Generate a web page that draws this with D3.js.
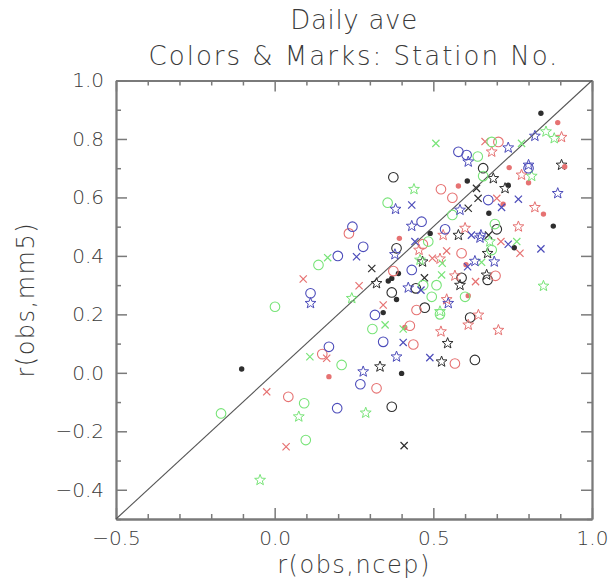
<!DOCTYPE html>
<html>
<head>
<meta charset="utf-8">
<script src="https://cdn.jsdelivr.net/npm/d3@7"></script>
<style>
  html, body { margin: 0; padding: 0; background: #fff; }
  svg { display: block; }
  text { font-family: "DejaVu Sans", "Liberation Sans", sans-serif; font-weight: 200; fill: #3a3a3a; }
</style>
</head>
<body>
<svg id="chart" width="609" height="582"></svg>
<script>
// ---------- data (x = r(obs,ncep), y = r(obs,mm5)) ----------
const titleLines = ["Daily ave", "Colors & Marks: Station No."];
const xLabel = "r(obs,ncep)";
const yLabel = "r(obs,mm5)";
const xMajorTicks = [-0.5, 0.0, 0.5, 1.0];
const xMinorTicks = [-0.4, -0.3, -0.2, -0.1, 0.1, 0.2, 0.3, 0.4, 0.6, 0.7, 0.8, 0.9];
const yMajorTicks = [-0.4, -0.2, 0.0, 0.2, 0.4, 0.6, 0.8, 1.0];
const yMinorTicks = [-0.5, -0.3, -0.1, 0.1, 0.3, 0.5, 0.7, 0.9];
const colors = { black: "#2e2e2e", red: "#e67272", green: "#78e478", blue: "#4c4cba" };

const blackCircle = [[0.374,0.669],[0.657,0.70],[0.70,0.491],[0.616,0.189],[0.631,0.044],[0.671,0.318],[0.384,0.426],[0.445,0.289],[0.589,0.325],[0.369,0.275],[0.473,0.223],[0.369,-0.116]];
const blackStar = [[0.579,0.471],[0.689,0.665],[0.904,0.711],[0.726,0.631],[0.668,0.335],[0.671,0.409],[0.321,0.306],[0.466,0.38],[0.584,0.30],[0.545,0.101],[0.526,0.038],[0.332,0.021]];
const blackCross = [[0.636,0.631],[0.641,0.597],[0.61,0.563],[0.674,0.471],[0.306,0.357],[0.472,0.325],[0.408,-0.249]];
const blackDot = [[0.607,0.656],[0.49,0.477],[0.839,0.888],[0.736,0.642],[0.675,0.546],[0.878,0.502],[0.755,0.428],[0.39,0.34],[0.369,0.323],[0.358,0.314],[0.384,0.251],[0.342,0.206],[0.40,-0.002],[-0.104,0.013]];

const redCircle = [[0.524,0.628],[0.560,0.599],[0.234,0.477],[0.705,0.79],[0.696,0.332],[0.467,0.44],[0.589,0.409],[0.374,0.348],[0.447,0.215],[0.426,0.161],[0.437,0.097],[0.568,0.032],[0.15,0.064],[0.043,-0.082],[0.321,-0.053]];
const redStar = [[0.531,0.471],[0.6,0.495],[0.904,0.806],[0.684,0.756],[0.778,0.677],[0.82,0.566],[0.768,0.50],[0.705,0.146],[0.642,0.198],[0.61,0.164],[0.455,0.42],[0.521,0.39],[0.568,0.332],[0.542,0.251],[0.524,0.141]];
const redCross = [[0.663,0.791],[0.70,0.597],[0.633,0.312],[0.713,0.449],[0.773,0.409],[0.497,0.392],[0.542,0.417],[0.266,0.298],[0.342,0.232],[0.09,0.321],[0.164,0.05],[-0.025,-0.065],[0.036,-0.253]];
const redDot = [[0.579,0.639],[0.892,0.856],[0.739,0.702],[0.8,0.65],[0.914,0.705],[0.72,0.577],[0.847,0.543],[0.61,0.264],[0.603,0.37],[0.393,0.46],[0.41,0.155],[0.171,-0.013]];

const greenCircle = [[0.356,0.582],[0.56,0.54],[0.684,0.79],[0.64,0.74],[0.657,0.673],[0.694,0.509],[0.684,0.42],[0.484,0.449],[0.468,0.30],[0.495,0.26],[0.51,0.30],[0.60,0.26],[0.521,0.20],[0.308,0.15],[0.138,0.369],[0.001,0.226],[0.211,0.027],[-0.169,-0.139],[0.093,-0.104],[0.098,-0.23]];
const greenStar = [[0.439,0.628],[0.855,0.825],[0.881,0.802],[0.81,0.673],[0.678,0.449],[0.847,0.297],[0.458,0.386],[0.243,0.255],[0.521,0.21],[0.076,-0.15],[-0.046,-0.367],[0.287,-0.137]];
const greenCross = [[0.508,0.785],[0.778,0.785],[0.652,0.378],[0.763,0.449],[0.526,0.335],[0.528,0.375],[0.348,0.164],[0.405,0.15],[0.167,0.394],[0.111,0.055]];

const blueCircle = [[0.579,0.756],[0.463,0.517],[0.245,0.5],[0.537,0.491],[0.605,0.745],[0.8,0.70],[0.673,0.591],[0.279,0.431],[0.432,0.352],[0.316,0.198],[0.342,0.106],[0.199,0.40],[0.113,0.272],[0.171,0.089],[0.197,-0.121],[0.27,-0.039]];
const blueStar = [[0.381,0.56],[0.584,0.557],[0.432,0.502],[0.82,0.81],[0.736,0.77],[0.61,0.722],[0.8,0.711],[0.892,0.614],[0.65,0.471],[0.692,0.38],[0.631,0.382],[0.647,0.462],[0.379,0.405],[0.421,0.291],[0.547,0.238],[0.384,0.055],[0.279,0.004],[0.113,0.238]];
const blueCross = [[0.432,0.574],[0.715,0.566],[0.768,0.594],[0.62,0.471],[0.839,0.424],[0.608,0.363],[0.736,0.44],[0.258,0.397],[0.442,0.449],[0.461,0.283],[0.405,0.104],[0.489,0.052]];

const stations = [
  { data: blackCircle, color: "black", mark: "circle" },
  { data: blackStar,   color: "black", mark: "star" },
  { data: blackCross,  color: "black", mark: "cross" },
  { data: blackDot,    color: "black", mark: "dot" },
  { data: redCircle,   color: "red",   mark: "circle" },
  { data: redStar,     color: "red",   mark: "star" },
  { data: redCross,    color: "red",   mark: "cross" },
  { data: redDot,      color: "red",   mark: "dot" },
  { data: greenCircle, color: "green", mark: "circle" },
  { data: greenStar,   color: "green", mark: "star" },
  { data: greenCross,  color: "green", mark: "cross" },
  { data: blueCircle,  color: "blue",  mark: "circle" },
  { data: blueStar,    color: "blue",  mark: "star" },
  { data: blueCross,   color: "blue",  mark: "cross" }
];

// ---------- layout ----------
const svg = d3.select("#chart");
const L = 116, R = 592, T = 80.5, B = 519;
const x = d3.scaleLinear().domain([-0.5, 1.0]).range([L, R]);
const y = d3.scaleLinear().domain([-0.5, 1.0]).range([B, T]);
const fmt = d3.format(".1f");
const axisColor = "#7a7a7a";

function styleAxis(g) {
  g.select(".domain").attr("stroke", axisColor).attr("stroke-width", 1.8);
  g.selectAll(".tick line").attr("stroke", axisColor).attr("stroke-width", 1.5);
  g.selectAll(".tick text").style("font-size", "20px").attr("fill", "#3a3a3a");
}

// bottom
svg.append("g").attr("transform", `translate(0,${B})`)
  .call(d3.axisBottom(x).tickValues(xMinorTicks).tickSize(-5).tickSizeOuter(0).tickFormat(""))
  .call(styleAxis);
svg.append("g").attr("transform", `translate(0,${B})`)
  .call(d3.axisBottom(x).tickValues(xMajorTicks).tickSize(-11).tickSizeOuter(0).tickPadding(12).tickFormat(fmt))
  .call(styleAxis);
// top
svg.append("g").attr("transform", `translate(0,${T})`)
  .call(d3.axisTop(x).tickValues(xMinorTicks).tickSize(-5).tickSizeOuter(0).tickFormat(""))
  .call(styleAxis);
svg.append("g").attr("transform", `translate(0,${T})`)
  .call(d3.axisTop(x).tickValues(xMajorTicks).tickSize(-11).tickSizeOuter(0).tickFormat(""))
  .call(styleAxis);
// left
svg.append("g").attr("transform", `translate(${L},0)`)
  .call(d3.axisLeft(y).tickValues(yMinorTicks).tickSize(-5).tickSizeOuter(0).tickFormat(""))
  .call(styleAxis);
svg.append("g").attr("transform", `translate(${L},0)`)
  .call(d3.axisLeft(y).tickValues(yMajorTicks).tickSize(-11).tickSizeOuter(0).tickPadding(12).tickFormat(fmt))
  .call(styleAxis);
// right
svg.append("g").attr("transform", `translate(${R},0)`)
  .call(d3.axisRight(y).tickValues(yMinorTicks).tickSize(-5).tickSizeOuter(0).tickFormat(""))
  .call(styleAxis);
svg.append("g").attr("transform", `translate(${R},0)`)
  .call(d3.axisRight(y).tickValues(yMajorTicks).tickSize(-11).tickSizeOuter(0).tickFormat(""))
  .call(styleAxis);

// diagonal 1:1 line
svg.append("line")
  .attr("x1", x(-0.5)).attr("y1", y(-0.5))
  .attr("x2", x(1.0)).attr("y2", y(1.0))
  .attr("stroke", "#555").attr("stroke-width", 1.1);

// ---------- markers ----------
function starPath(ro, ri) {
  const pts = [];
  for (let i = 0; i < 10; i++) {
    const a = -Math.PI / 2 + i * Math.PI / 5;
    const r = i % 2 === 0 ? ro : ri;
    pts.push([r * Math.cos(a), r * Math.sin(a)]);
  }
  return "M" + pts.map(p => p[0].toFixed(2) + "," + p[1].toFixed(2)).join("L") + "Z";
}
const STAR = starPath(5.7, 2.4);
const CROSS = "M-3.6,-3.6L3.6,3.6M-3.6,3.6L3.6,-3.6";

const gm = svg.append("g");
stations.forEach(st => {
  const c = colors[st.color];
  const sel = gm.append("g").selectAll("g").data(st.data).join("g")
    .attr("transform", d => `translate(${x(d[0])},${y(d[1])})`);
  if (st.mark === "circle") {
    sel.append("circle").attr("r", 4.8).attr("fill", "none").attr("stroke", c).attr("stroke-width", 1.1);
  } else if (st.mark === "dot") {
    sel.append("circle").attr("r", 2.7).attr("fill", c).attr("stroke", "none");
  } else if (st.mark === "star") {
    sel.append("path").attr("d", STAR).attr("fill", "none").attr("stroke", c).attr("stroke-width", 1.0);
  } else {
    sel.append("path").attr("d", CROSS).attr("fill", "none").attr("stroke", c).attr("stroke-width", 1.2);
  }
});

// ---------- titles ----------
const cx = (L + R) / 2;
svg.append("text").attr("x", cx).attr("y", 29).attr("text-anchor", "middle")
  .style("font-size", "26px").style("letter-spacing", "0.7px").text(titleLines[0]);
svg.append("text").attr("x", cx).attr("y", 65).attr("text-anchor", "middle")
  .style("font-size", "26px").style("letter-spacing", "2px").text(titleLines[1]);
svg.append("text").attr("x", cx).attr("y", 573).attr("text-anchor", "middle")
  .style("font-size", "24px").style("letter-spacing", "1.5px").text(xLabel);
svg.append("text").attr("transform", `translate(34,${(T + B) / 2}) rotate(-90)`).attr("text-anchor", "middle")
  .style("font-size", "24px").style("letter-spacing", "1.5px").text(yLabel);
</script>
</body>
</html>
